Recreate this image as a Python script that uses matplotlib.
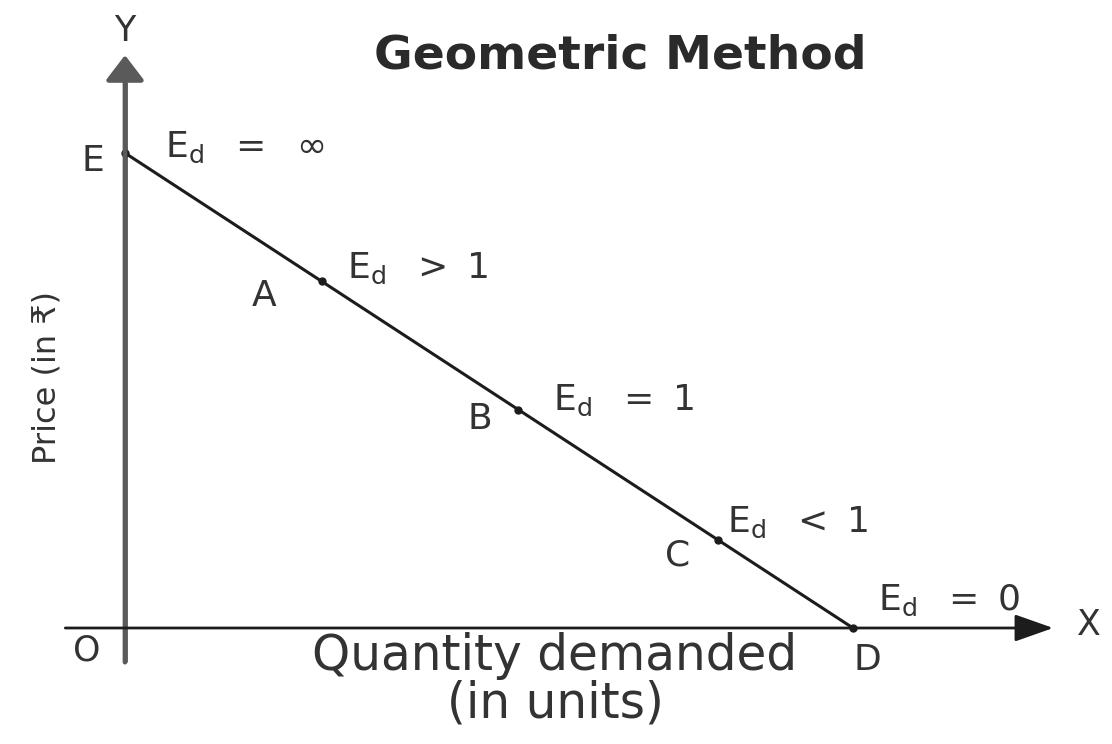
import matplotlib
matplotlib.use("Agg")
import matplotlib.pyplot as plt

plt.rcParams['font.family'] = ['DejaVu Sans', 'Noto Sans']
plt.rcParams['mathtext.default'] = 'regular'

# demand curve points (quantity, price) and point elasticities
point_names = ['E', 'A', 'B', 'C', 'D']
quantity = [0, 2.7, 5.4, 8.15, 10]
price = [10, 7.3, 4.6, 1.85, 0]
elasticity = [r'$E_d\ \ =\ \ \infty$', r'$E_d\ \ >\ 1$', r'$E_d\ \ =\ 1$',
              r'$E_d\ \ <\ 1$', r'$E_d\ \ =\ 0$']

title = 'Geometric Method'
x_label = 'Quantity demanded\n(in units)'
y_label = 'Price (in ₹)'

INK = '#1c1c1c'
TEXT = '#333333'
AXIS_GREY = '#6e6e6e'

fig = plt.figure(figsize=(11.12, 7.44), dpi=100)
ax = fig.add_axes([0, 0, 1, 1])
ax.set_xlim(-1.717, 13.558)
ax.set_ylim(-2.442, 13.221)
ax.axis('off')

# axes drawn as arrows from the origin
ax.annotate('', xy=(0, 12.06), xytext=(0, -0.72),
            arrowprops=dict(arrowstyle='-|>,head_length=0.55,head_width=0.42',
                            mutation_scale=28, lw=3.4, color='#5a5a5a',
                            shrinkA=0, shrinkB=0))
ax.plot([0, 0], [-0.72, 11.5], color=AXIS_GREY, lw=3.6, solid_capstyle='butt')
ax.annotate('', xy=(12.75, 0), xytext=(-0.82, 0),
            arrowprops=dict(arrowstyle='-|>,head_length=0.85,head_width=0.3',
                            mutation_scale=28, lw=2.0, color=INK,
                            shrinkA=0, shrinkB=0))
ax.annotate('Y', xy=(0, 12.06), xytext=(0, 24), textcoords='offset pixels',
            ha='center', va='center', fontsize=25, color=TEXT)
ax.annotate('X', xy=(12.75, 0), xytext=(36, 3), textcoords='offset pixels',
            ha='center', va='center', fontsize=25, color=TEXT)
ax.annotate('O', xy=(0, 0), xytext=(-38, -22), textcoords='offset pixels',
            ha='center', va='center', fontsize=25, color=TEXT)

# straight-line demand curve and the marked points
ax.plot([quantity[0], quantity[-1]], [price[0], price[-1]], color=INK, lw=2.2)
ax.plot(quantity, price, 'o', color=INK, markersize=5)

letter_offsets = [(-32, -8), (-57, -15), (-38, -9), (-41, -15), (14, -32)]
ed_offsets = [(40, -4), (25, 3), (35, 0), (9, 8), (25, 18)]
for name, q, p, ed, lo, eo in zip(point_names, quantity, price, elasticity,
                                  letter_offsets, ed_offsets):
    ax.annotate(name, xy=(q, p), xytext=lo, textcoords='offset pixels',
                ha='center', va='center', fontsize=26, color=TEXT)
    ax.annotate(ed, xy=(q, p), xytext=eo, textcoords='offset pixels',
                ha='left', va='baseline', fontsize=26, color=TEXT)

fig.text(620 / 1112, 1 - 56 / 744, title, ha='center', va='center',
         fontsize=34, fontweight='bold', color='#2a2a2a')
fig.text(555 / 1112, 1 - 680 / 744, x_label, ha='center', va='center',
         fontsize=35, color=TEXT, linespacing=1.0)
fig.text(47 / 1112, 1 - 378 / 744, y_label, ha='center', va='center',
         rotation=90, fontsize=23, color=TEXT)

fig.savefig('out.png', dpi=100)
